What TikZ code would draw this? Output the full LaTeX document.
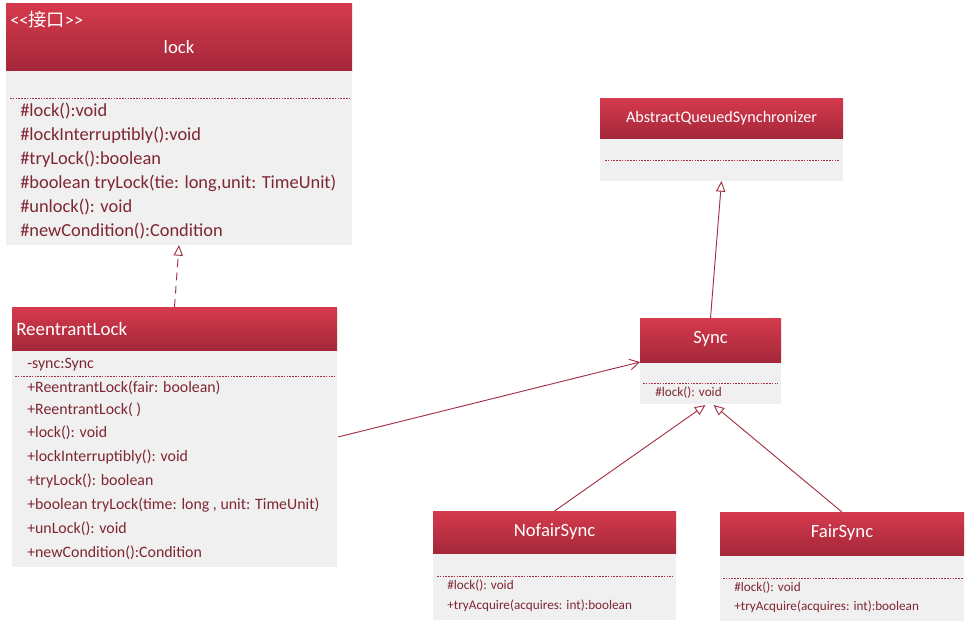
\documentclass[tikz,border=0pt]{standalone}
\usepackage{fontspec}
\setmainfont{Carlito}
\newfontfamily\cjk{Noto Sans CJK SC}
\usetikzlibrary{arrows.meta,calc,fit}
\definecolor{hdtop}{HTML}{D53A4C}
\definecolor{hdbot}{HTML}{A4283A}
\definecolor{bodyfill}{HTML}{F0F0F0}
\definecolor{linec}{HTML}{A33142}
\definecolor{txt}{HTML}{7E2633}
\tikzset{
  hdr/.style={rectangle, inner sep=0pt, outer sep=0pt, top color=hdtop, bottom color=hdbot, draw=none},
  bdy/.style={rectangle, inner sep=0pt, outer sep=0pt, fill=bodyfill, draw=none},
  sepline/.style={draw=linec, dash pattern=on 1.2pt off 0.9pt, line width=0.6pt},
  ttl/.style={text=white, inner sep=0pt, font=\fontsize{14}{16}\selectfont},
  big/.style={text=txt, inner sep=0pt, anchor=west, font=\fontsize{13.8}{16}\selectfont},
  mid/.style={text=txt, inner sep=0pt, anchor=west, font=\fontsize{11.9}{14}\selectfont},
  small/.style={text=txt, inner sep=0pt, anchor=west, font=\fontsize{9.9}{12}\selectfont},
  conn/.style={draw=linec, line width=0.7pt},
  realize/.style={conn, dash pattern=on 6pt off 4pt, -{Triangle[open,length=8pt,width=7pt]}},
  inherit/.style={conn, -{Triangle[open,length=8pt,width=7pt]}},
  assoc/.style={conn, -{Straight Barb[length=7pt,width=8pt]}}
}
\begin{document}
\begin{tikzpicture}[x=0.75pt,y=-0.75pt]
\useasboundingbox (0,0) rectangle (966,625);
\fill[white] (0,0) rectangle (966,625);

% ---- lock interface
\node[bdy, fit={(6,70) (352,245)}] (lockbody) {};
\node[hdr, fit={(6,3) (352,70)}] (lockhead) {};
\node[ttl, anchor=west, font=\fontsize{13.7}{16}\selectfont] (lockst) at (10,20) {<\kern0pt<{\cjk 接口}>\kern0pt>};
\node[ttl] (lockname) at (179,47) {lock};
\draw[sepline] ($(lockbody.north west)+(4,28)$) -- ($(lockbody.north east)+(-3,28)$);
\node[big] (l1) at (20,111) {\#lock():void};
\node[big] (l2) at (20,135) {\#lockInterruptibly():void};
\node[big] (l3) at (20,159) {\#tryLock():boolean};
\node[big] (l4) at (20,183) {\#boolean tryLock(tie: long,unit: TimeUnit)};
\node[big] (l5) at (20,207) {\#unlock(): void};
\node[big] (l6) at (20,231) {\#newCondition():Condition};

% ---- AbstractQueuedSynchronizer
\node[bdy, fit={(600,138) (843,181)}] (aqsbody) {};
\node[hdr, fit={(600,98) (843,138)}] (aqshead) {};
\node[ttl, font=\fontsize{12.1}{14}\selectfont] (aqsname) at (721.5,118) {AbstractQueuedSynchronizer};
\draw[sepline] ($(aqsbody.north west)+(5,22)$) -- ($(aqsbody.north east)+(-3,22)$);

% ---- Sync
\node[bdy, fit={(640,362) (781,404)}] (syncbody) {};
\node[hdr, fit={(640,318) (781,362)}] (synchead) {};
\node[ttl] (syncname) at (710.5,339) {Sync};
\draw[sepline] ($(syncbody.north west)+(3,21)$) -- ($(syncbody.north east)+(-3,21)$);
\node[small] (s1) at (655,393) {\#lock(): void};

% ---- ReentrantLock
\node[bdy, fit={(12,350) (337,567)}] (rlbody) {};
\node[hdr, fit={(12,307) (337,350)}] (rlhead) {};
\node[ttl, anchor=west, font=\fontsize{14.2}{16}\selectfont] (rlname) at (16,329) {ReentrantLock};
\node[mid] (r0) at (27,365) {-sync:Sync};
\draw[sepline] ($(rlbody.north west)+(3,26)$) -- ($(rlbody.north east)+(-2,26)$);
\node[mid] (r1) at (27,388) {+ReentrantLock(fair: boolean)};
\node[mid] (r2) at (27,410) {+ReentrantLock( )};
\node[mid] (r3) at (27,433) {+lock(): void};
\node[mid] (r4) at (27,457) {+lockInterruptibly(): void};
\node[mid] (r5) at (27,481) {+tryLock(): boolean};
\node[mid] (r6) at (27,505) {+boolean tryLock(time: long , unit: TimeUnit)};
\node[mid] (r7) at (27,529) {+unLock(): void};
\node[mid] (r8) at (27,553) {+newCondition():Condition};

% ---- NofairSync
\node[bdy, fit={(433,553) (676,620)}] (nofbody) {};
\node[hdr, fit={(433,511) (676,553)}] (nofhead) {};
\node[ttl] (nofname) at (554.5,532) {NofairSync};
\draw[sepline] ($(nofbody.north west)+(4,23)$) -- ($(nofbody.north east)+(-3,23)$);
\node[small] (n1) at (447,586) {\#lock(): void};
\node[small] (n2) at (447,606) {+tryAcquire(acquires: int):boolean};

% ---- FairSync
\node[bdy, fit={(720,555) (964,621)}] (fairbody) {};
\node[hdr, fit={(720,512) (964,555)}] (fairhead) {};
\node[ttl] (fairname) at (842,533) {FairSync};
\draw[sepline] ($(fairbody.north west)+(3,23)$) -- ($(fairbody.north east)+(-1,23)$);
\node[small] (f1) at (734,588) {\#lock(): void};
\node[small] (f2) at (734,607) {+tryAcquire(acquires: int):boolean};

% ---- connectors
\draw[realize] (rlhead.north) -- (lockbody.south);
\draw[inherit] (synchead.north) -- (aqsbody.south);
\coordinate (rlout) at ($(rlbody.north east)+(1,87)$);
\draw[assoc] (rlout) -- (synchead.south west);
\draw[inherit] (nofhead.north) -- ($(syncbody.south)+(-5,1)$);
\draw[inherit] (fairhead.north) -- ($(syncbody.south)+(3,1)$);
\end{tikzpicture}
\end{document}
